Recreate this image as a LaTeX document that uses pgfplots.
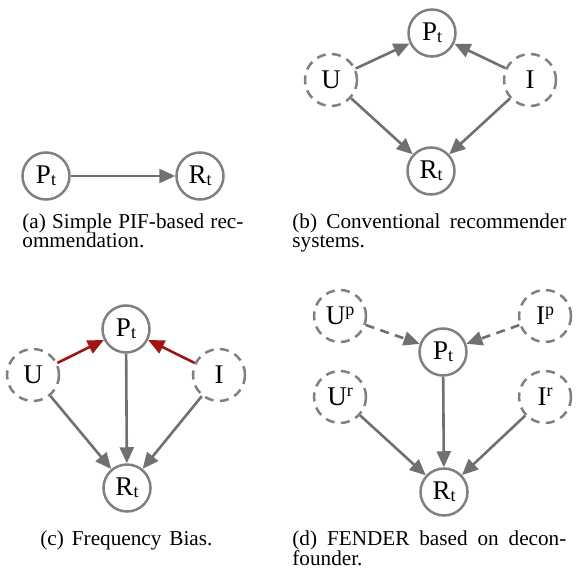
\documentclass[border=0pt]{standalone}
\usepackage{pgfplots}
\pgfplotsset{compat=1.18}
\usepackage{fontspec}
\setmainfont{Liberation Serif}
\usetikzlibrary{arrows.meta}
\definecolor{cgray}{RGB}{128,128,128}
\definecolor{agray}{RGB}{112,112,112}
\definecolor{ared}{RGB}{160,20,20}
\newcommand{\lab}[2]{#1{\fontsize{9}{9}\selectfont\raisebox{-0.8pt}{#2}}}
\newcommand{\suplab}[2]{#1{\fontsize{9}{9}\selectfont\raisebox{4.5pt}{#2}}}
\begin{document}
\begin{tikzpicture}[
 v/.style={circle, draw=cgray, line width=1.25pt, minimum size=23.5pt, inner sep=0pt, font=\fontsize{13.5}{15}\selectfont},
 h/.style={v, dash pattern=on 4.5pt off 3.2pt, minimum size=26pt},
 ar/.style={draw=agray, line width=1.3pt, -{Triangle[length=8pt,width=7pt]}},
 rr/.style={ar, draw=ared},
 captxt/.style={anchor=base west, inner sep=0pt, font=\fontsize{10.6}{13}\selectfont},
]
\begin{axis}[scale only axis, width=291pt, height=288.5pt,
  xmin=0, xmax=582, ymin=0, ymax=577, y dir=reverse,
  axis lines=none, clip=false, xtick=\empty, ytick=\empty]
\path (axis cs:0,0) rectangle (axis cs:582,577);
% (a)
\node[v] (aP) at (axis cs:46,176) {\lab{P}{t}};
\node[v] (aR) at (axis cs:200,176) {\lab{R}{t}};
\draw[ar] (aP) -- (aR);
\node[captxt] at (axis cs:22,228) {\makebox[110.5pt][s]{(a) Simple PIF-based rec-}};
\node[captxt] at (axis cs:22,247) {ommendation.};
% (b)
\node[v] (bP) at (axis cs:432,33) {\lab{P}{t}};
\node[h] (bU) at (axis cs:331,80) {U};
\node[h] (bI) at (axis cs:530,80) {I};
\node[v] (bR) at (axis cs:431,171) {\lab{R}{t}};
\draw[ar] (bU) -- (bP);
\draw[ar] (bI) -- (bP);
\draw[ar] (bU) -- (bR);
\draw[ar] (bI) -- (bR);
\node[captxt] at (axis cs:292,228) {\makebox[137pt][s]{(b) Conventional recommender}};
\node[captxt] at (axis cs:292,247) {systems.};
% (c)
\node[v] (cP) at (axis cs:126,329) {\lab{P}{t}};
\node[h] (cU) at (axis cs:33,375) {U};
\node[h] (cI) at (axis cs:219,375) {I};
\node[v] (cR) at (axis cs:127,488) {\lab{R}{t}};
\draw[rr] (cU) -- (cP);
\draw[rr] (cI) -- (cP);
\draw[ar] (cP) -- (cR);
\draw[ar] (cU) -- (cR);
\draw[ar] (cI) -- (cR);
\node[captxt] at (axis cs:40,545) {\makebox[86pt][s]{(c) Frequency Bias.}};
% (d)
\node[h] (dUp) at (axis cs:340,316) {\suplab{U}{p}};
\node[h] (dIp) at (axis cs:545,316) {\suplab{I}{p}};
\node[v] (dP) at (axis cs:443,352) {\lab{P}{t}};
\node[h] (dUr) at (axis cs:340,397) {\suplab{U}{r}};
\node[h] (dIr) at (axis cs:545,397) {\suplab{I}{r}};
\node[v] (dR) at (axis cs:444,492) {\lab{R}{t}};
\draw[ar, dash pattern=on 4.5pt off 3.2pt] (dUp) -- (dP);
\draw[ar, dash pattern=on 4.5pt off 3.2pt] (dIp) -- (dP);
\draw[ar] (dP) -- (dR);
\draw[ar] (dUr) -- (dR);
\draw[ar] (dIr) -- (dR);
\node[captxt] at (axis cs:292,545) {\makebox[137pt][s]{(d) FENDER based on decon-}};
\node[captxt] at (axis cs:292,565) {founder.};
\end{axis}
\end{tikzpicture}
\end{document}
